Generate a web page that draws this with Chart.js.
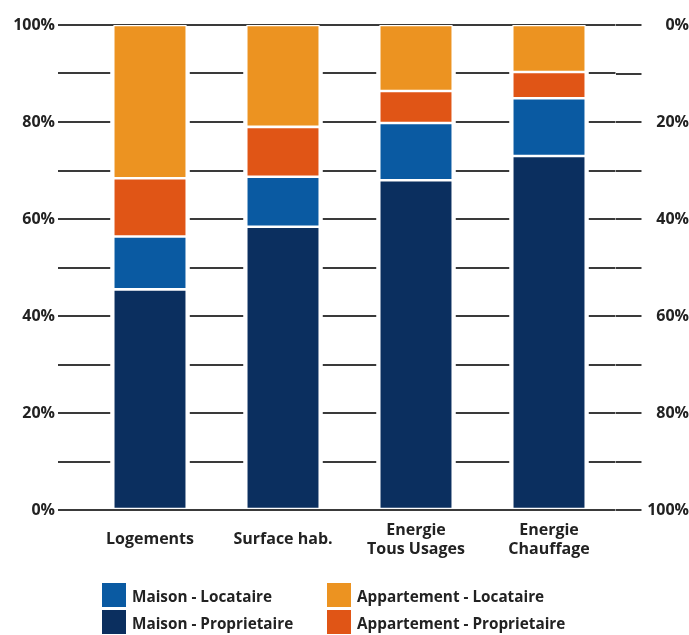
<!DOCTYPE html>
<html>
<head>
<meta charset="utf-8">
<script src="https://cdn.jsdelivr.net/npm/chart.js@4/dist/chart.umd.min.js"></script>
<style>
  html, body { margin: 0; padding: 0; background: #fff; }
  #wrap { position: relative; width: 689px; height: 635px; overflow: hidden; }
  .leg { position: absolute; font: bold 15.3px "Open Sans", sans-serif; color: #222; white-space: nowrap; }
  .leg span { position: absolute; top: 0; left: 0; width: 24px; height: 24px; }
  .leg b { position: absolute; left: 30px; top: 3px; font-weight: bold; }
</style>
</head>
<body>
<div id="wrap">
  <canvas id="barChart" width="689" height="635"></canvas>
  <div id="legend"></div>
</div>
<script>
// categories and stacked shares (%)
const categories = ["Logements", "Surface hab.", ["Energie", "Tous Usages"], ["Energie", "Chauffage"]];
const maisonProprietaire = [45.5, 58.4, 68.0, 73.0];
const maisonLocataire = [10.9, 10.3, 11.8, 11.9];
const appartProprietaire = [12.0, 10.3, 6.6, 5.4];
const appartLocataire = [31.6, 21.0, 13.6, 9.7];
const leftTicks = ["0%", "20%", "40%", "60%", "80%", "100%"];

const colors = {
  mp: "#0b2f5f",
  ml: "#0a5aa2",
  ap: "#e05516",
  al: "#ec9321"
};

document.addEventListener("DOMContentLoaded", () => {
  const font = { family: "'Open Sans', sans-serif", weight: "bold", size: 16 };
  const gridColor = "#3a3a3a";

  // white halo around each stack so the grid lines stop short of the bars
  const barGap = {
    id: "barGap",
    beforeDatasetsDraw(chart) {
      const ctx = chart.ctx;
      const bottom = chart.getDatasetMeta(0);
      const top = chart.getDatasetMeta(chart.data.datasets.length - 1);
      ctx.save();
      ctx.fillStyle = "#fff";
      bottom.data.forEach((bar, i) => {
        const t = top.data[i].y;
        ctx.fillRect(bar.x - bar.width / 2 - 3, t + 1.5, bar.width + 6, bar.base - t - 3);
      });
      ctx.restore();
    }
  };

  const ds = (label, data, color) => ({
    label: label,
    data: data,
    backgroundColor: color,
    borderColor: "#fff",
    borderWidth: 1.3,
    borderSkipped: false,
    stack: "s"
  });

  new Chart(document.getElementById("barChart").getContext("2d"), {
    type: "bar",
    data: {
      labels: categories,
      datasets: [
        ds("Maison - Proprietaire", maisonProprietaire, colors.mp),
        ds("Maison - Locataire", maisonLocataire, colors.ml),
        ds("Appartement - Proprietaire", appartProprietaire, colors.ap),
        ds("Appartement - Locataire", appartLocataire, colors.al)
      ]
    },
    options: {
      responsive: false,
      animation: false,
      layout: { padding: { top: 25, bottom: 65, left: 0, right: 0 } },
      datasets: { bar: { categoryPercentage: 1, barPercentage: 0.553 } },
      plugins: { legend: { display: false }, tooltip: { enabled: false } },
      scales: {
        x: {
          stacked: true,
          grid: { display: false },
          border: { display: false },
          ticks: { font: font, color: "#222", padding: 12, crossAlign: "center", maxRotation: 0 },
          afterFit: s => { s.height = 60; }
        },
        y: {
          stacked: true,
          min: 0,
          max: 100,
          position: "left",
          border: { display: false },
          grid: { color: gridColor, lineWidth: 2, tickLength: 25.5 },
          ticks: {
            stepSize: 10,
            padding: 3,
            font: font,
            color: "#222",
            callback: v => (v % 20 === 0 ? leftTicks[v / 20] : "")
          },
          afterFit: s => { s.width = 83.5; }
        },
        y2: {
          min: 0,
          max: 100,
          reverse: true,
          position: "right",
          border: { display: false },
          grid: { color: gridColor, lineWidth: 2, tickLength: 26, drawOnChartArea: false },
          ticks: {
            stepSize: 10,
            padding: 4,
            crossAlign: "far",
            font: font,
            color: "#222",
            callback: v => (v % 20 === 0 ? leftTicks[v / 20] : "")
          },
          afterFit: s => { s.width = 73.5; }
        }
      }
    },
    plugins: [barGap]
  });

  // legend laid out in two columns like the original
  const legendItems = [
    { text: "Maison - Locataire", color: colors.ml, x: 102, y: 583 },
    { text: "Appartement - Locataire", color: colors.al, x: 327, y: 583 },
    { text: "Maison - Proprietaire", color: colors.mp, x: 102, y: 610 },
    { text: "Appartement - Proprietaire", color: colors.ap, x: 327, y: 610 }
  ];
  const legend = document.getElementById("legend");
  legendItems.forEach(it => {
    const d = document.createElement("div");
    d.className = "leg";
    d.style.left = it.x + "px";
    d.style.top = it.y + "px";
    d.innerHTML = '<span style="background:' + it.color + '"></span><b>' + it.text + "</b>";
    legend.appendChild(d);
  });
});
</script>
</body>
</html>
